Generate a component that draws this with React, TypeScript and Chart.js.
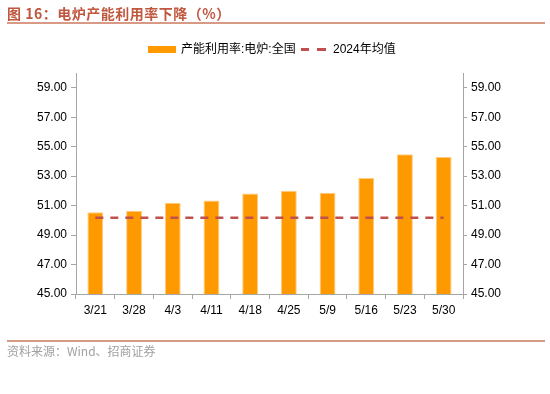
import React, { useEffect, useRef } from 'react';
import { Chart, registerables } from 'chart.js';

Chart.register(...registerables);

const categories = ['3/21', '3/28', '4/3', '4/11', '4/18', '4/25', '5/9', '5/16', '5/23', '5/30'];
const utilization = [50.55, 50.65, 51.2, 51.35, 51.82, 52.0, 51.87, 52.88, 54.48, 54.3];
const avg2024 = [50.18, 50.18, 50.18, 50.18, 50.18, 50.18, 50.18, 50.18, 50.18, 50.18];
const yTickValues = [45, 47, 49, 51, 53, 55, 57, 59];
const yMin = 45;
const yMax = 60;

const titleText = '图 16：电炉产能利用率下降（%）';
const barLabel = '产能利用率:电炉:全国';
const lineLabel = '2024年均值';
const sourceText = '资料来源：Wind、招商证券';

const BAR_COLOR = '#FF9900';
const LINE_COLOR = '#C0504D';
const AXIS_COLOR = '#A6A6A6';
const NUM_FONT = '"Liberation Sans", Arial, "Noto Sans CJK SC", sans-serif';

export default function App() {
  const ref = useRef<HTMLCanvasElement | null>(null);

  useEffect(() => {
    document.body.style.margin = '0';
    const canvas = ref.current;
    if (!canvas) return;
    const yAxisCommon = (side: 'left' | 'right', width: number, tl: number, pad: number) => ({
      type: 'linear' as const,
      position: side,
      min: yMin,
      max: yMax,
      afterBuildTicks: (s: any) => {
        s.ticks = yTickValues.map((v) => ({ value: v }));
      },
      afterFit: (s: any) => {
        s.width = width;
      },
      grid: {
        display: true,
        drawOnChartArea: false,
        drawTicks: true,
        tickLength: tl,
        color: AXIS_COLOR,
      },
      border: { display: true, color: AXIS_COLOR, width: 1 },
      ticks: {
        padding: pad,
        color: '#000',
        font: { family: NUM_FONT, size: 12 },
        callback: (v: any) => Number(v).toFixed(2),
      },
    });

    const chart = new Chart(canvas, {
      type: 'bar',
      data: {
        labels: categories,
        datasets: [
          {
            type: 'line' as const,
            label: lineLabel,
            data: avg2024,
            borderColor: LINE_COLOR,
            borderWidth: 2.5,
            borderDash: [8, 7],
            pointRadius: 0,
            fill: false,
            yAxisID: 'y',
            order: 0,
          },
          {
            type: 'bar' as const,
            label: barLabel,
            data: utilization,
            backgroundColor: BAR_COLOR,
            borderColor: '#FFCC80',
            borderWidth: 1,
            barPercentage: 0.41,
            categoryPercentage: 1,
            yAxisID: 'y',
            order: 1,
          },
        ],
      },
      options: {
        responsive: false,
        animation: false,
        devicePixelRatio: 1,
        layout: { padding: { top: 73, left: 0, right: 0, bottom: 0 } },
        plugins: {
          legend: { display: false },
          title: { display: false },
          tooltip: { enabled: false },
        },
        scales: {
          x: {
            type: 'category',
            afterFit: (s: any) => {
              s.height = 100;
            },
            grid: {
              display: true,
              offset: true,
              drawOnChartArea: false,
              drawTicks: true,
              tickLength: 5,
              color: AXIS_COLOR,
            },
            border: { display: true, color: AXIS_COLOR, width: 1 },
            ticks: {
              padding: 4,
              color: '#000',
              maxRotation: 0,
              autoSkip: false,
              font: { family: NUM_FONT, size: 12 },
            },
          },
          y: yAxisCommon('left', 76, 5, 4),
          y2: yAxisCommon('right', 87, 4, 4),
        },
      },
    });
    return () => chart.destroy();
  }, []);

  const legendText = {
    position: 'absolute' as const,
    top: 42,
    fontFamily: '"Liberation Sans", "Noto Sans CJK SC", sans-serif',
    fontSize: 12,
    lineHeight: '14px',
    color: '#000',
    whiteSpace: 'nowrap' as const,
  };

  return (
    <div style={{ position: 'fixed', left: 0, top: 0, width: 550, height: 394, background: '#fff', overflow: 'hidden' }}>
      <canvas ref={ref} width={550} height={394} style={{ position: 'absolute', left: 0, top: 0, width: 550, height: 394 }} />
      <div
        style={{
          position: 'absolute',
          left: 7,
          top: 5,
          fontFamily: '"Noto Sans CJK SC", sans-serif',
          fontWeight: 700,
          fontSize: 14,
          lineHeight: '16px',
          color: '#C0573F',
          letterSpacing: 0.5,
          whiteSpace: 'nowrap',
        }}
      >
        {titleText}
      </div>
      <div style={{ position: 'absolute', left: 7, top: 22, width: 538, height: 2, background: '#D69A85' }} />
      {/* legend */}
      <div style={{ position: 'absolute', left: 148, top: 46, width: 28, height: 7, background: BAR_COLOR }} />
      <div style={{ ...legendText, left: 181 }}>{barLabel}</div>
      <div style={{ position: 'absolute', left: 301, top: 48, width: 8, height: 2.5, background: LINE_COLOR }} />
      <div style={{ position: 'absolute', left: 317, top: 48, width: 9, height: 2.5, background: LINE_COLOR }} />
      <div style={{ ...legendText, left: 333 }}>{lineLabel}</div>
      <div style={{ position: 'absolute', left: 7, top: 340, width: 538, height: 2, background: '#D69A85' }} />
      <div
        style={{
          position: 'absolute',
          left: 7,
          top: 344,
          fontFamily: '"Noto Sans CJK SC", sans-serif',
          fontSize: 12,
          lineHeight: '14px',
          color: '#A0A0A0',
          whiteSpace: 'nowrap',
        }}
      >
        {sourceText}
      </div>
    </div>
  );
}
